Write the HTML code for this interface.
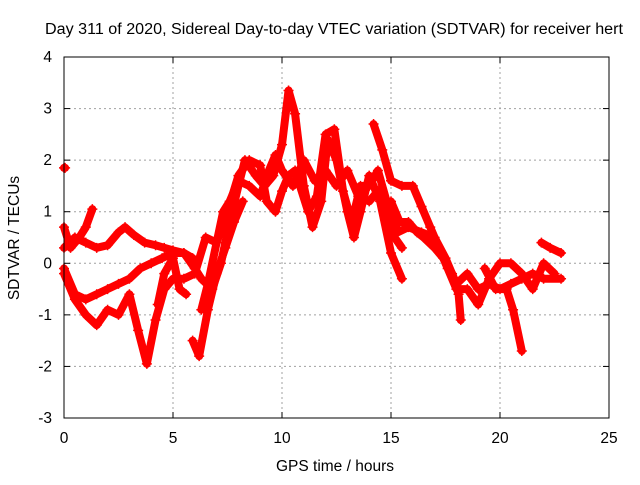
<!DOCTYPE html>
<html><head><meta charset="utf-8"><style>
body{margin:0;background:#fff;font-family:"Liberation Sans",sans-serif}
svg text{font-family:"Liberation Sans",sans-serif;font-size:15.5px;fill:#000}
</style></head><body>
<svg id="chart" width="640" height="480" viewBox="0 0 640 480">
<rect width="640" height="480" fill="#fff"/>
<text x="334" y="34" text-anchor="middle" textLength="578" lengthAdjust="spacingAndGlyphs">Day 311 of 2020, Sidereal Day-to-day VTEC variation (SDTVAR) for receiver hert</text>
<g id="grid"></g>
<g id="series"></g>
<rect x="64" y="57" width="545" height="361" fill="none" stroke="#000" stroke-width="1"/>
<g id="ticks"></g>
<text x="335" y="471" text-anchor="middle">GPS time / hours</text>
<text transform="translate(19,238) rotate(-90)" text-anchor="middle">SDTVAR / TECUs</text>
</svg>
<script>
const xTicks=[0,5,10,15,20,25];
const yTicks=[-3,-2,-1,0,1,2,3,4];
const s1=[[0,0.7],[0.3,0.3],[0.7,0.5],[1.0,0.7],[1.3,1.05]];
const s2=[[0,0.3],[0.5,0.5],[1,0.4],[1.5,0.3],[2,0.35],[2.5,0.6],[2.8,0.7],[3.2,0.55],[3.7,0.4],[4.2,0.35],[4.6,0.3],[5,0.25],[5.5,0.2],[5.9,0.1]];
const s3=[[0,-0.1],[0.5,-0.6],[1,-0.7],[1.5,-0.6],[2,-0.5],[2.5,-0.4],[3,-0.3],[3.5,-0.1],[4,0.0],[4.5,0.1],[5,0.2],[5.5,0.2],[6,-0.1],[6.3,-0.3],[6.8,-0.5],[7.2,0.0],[7.6,0.8],[8,1.5],[8.3,2.0],[8.8,1.7],[9.2,1.5],[9.6,1.7],[10,2.3],[10.3,3.35],[10.6,2.9],[11,1.5],[11.4,0.7],[11.8,1.2],[12.1,2.4],[12.5,2.0],[13,1.0],[13.3,0.5],[13.6,1.0],[14,1.7],[14.5,1.2],[15,0.2],[15.5,-0.3]];
const s4=[[0,-0.2],[0.5,-0.7],[1,-1.0],[1.5,-1.2],[2,-0.9],[2.5,-1.0],[3,-0.6],[3.4,-1.3],[3.8,-1.95],[4.2,-1.1],[4.6,-0.5],[5,-0.3],[5.5,-0.3],[6,-0.2],[6.5,0.5],[7,0.4],[7.5,1.0],[8,1.7],[8.5,2.0],[9,1.9],[9.3,1.2],[9.7,1.0],[10,1.4],[10.3,1.7],[10.6,1.8],[11.2,1.0],[11.6,1.3],[12,2.5],[12.4,2.6],[12.8,1.4],[13.2,0.8],[13.6,1.5],[14,1.5],[14.4,1.8],[14.8,1.2],[15.3,0.6],[15.8,0.7],[16.4,0.6],[17,0.5],[17.5,0.1],[18,-0.4],[18.5,-0.2],[19,-0.5],[19.5,-0.4],[20,-0.5],[20.5,-0.4],[21,-0.3],[21.5,-0.2],[22,-0.3],[22.8,-0.3]];
const s5=[[14.2,2.7],[14.6,2.2],[15,1.6],[15.5,1.5],[16,1.5],[16.4,1.1],[16.8,0.7],[17.2,0.3],[17.6,-0.1],[18,-0.5],[18.5,-0.5],[19,-0.8],[19.5,-0.3],[20,0.0],[20.5,0.0],[21,-0.2],[21.5,-0.5],[22,0.0],[22.5,-0.2]];
const s6=[[15,1.2],[15.4,0.8],[15.8,0.8],[16.2,0.6],[16.5,0.5],[17,0.3],[17.4,0.1],[17.8,-0.2],[18.1,-0.6],[18.2,-1.1]];
const s7=[[19.3,-0.1],[19.8,-0.5],[20.3,-0.5],[20.6,-0.9],[21,-1.7]];
const s8=[[21.9,0.4],[22.3,0.3],[22.8,0.2]];
const s9=[[6.3,-0.9],[6.6,-0.4],[7,0.4],[7.3,1.0],[7.6,1.2],[8,1.6],[8.5,1.5],[9,1.3],[9.4,1.8],[9.7,2.1],[10,1.8],[10.5,1.5],[11,2.0],[11.5,1.6],[12,1.8],[12.5,1.5],[13,1.8],[13.5,1.3],[14,1.2],[14.4,1.4],[14.7,1.0],[15,0.6],[15.5,0.3]];
const s10=[[5.9,-1.5],[6.2,-1.8],[6.6,-0.9],[7,-0.2],[7.4,0.3],[7.8,0.8],[8.2,1.2]];
const s11=[[4.3,-0.8],[4.6,-0.2],[5,0.1],[5.3,-0.5],[5.6,-0.6]];
const s12=[[0,1.85],[0.05,1.85]];
const allSeries=[s1,s2,s3,s4,s5,s6,s7,s8,s9,s10,s11,s12];
const X=v=>64+v*545/25, Y=v=>418-(v+3)*361/7;
const NS="http://www.w3.org/2000/svg";
function mk(t,a,p){const e=document.createElementNS(NS,t);for(const k in a)e.setAttribute(k,a[k]);p.appendChild(e);return e;}
const grid=document.getElementById('grid'),ticks=document.getElementById('ticks'),ser=document.getElementById('series');
xTicks.forEach(t=>{
 const x=X(t);
 if(t>0&&t<25){const g=mk('line',{x1:x,x2:x,y1:57,y2:418,stroke:'#a0a0a0','stroke-dasharray':'2,3'},grid);
 
 }
 mk('line',{x1:x,x2:x,y1:418,y2:412,stroke:'#000'},ticks);mk('line',{x1:x,x2:x,y1:57,y2:63,stroke:'#000'},ticks);
 const l=mk('text',{x:x,y:443,'text-anchor':'middle'},ticks);l.textContent=t;
 
 
});
yTicks.forEach(t=>{
 const y=Y(t);
 if(t>-3&&t<4){const g=mk('line',{x1:64,x2:609,y1:y,y2:y,stroke:'#a0a0a0','stroke-dasharray':'2,3'},grid);
 
 }
 mk('line',{x1:64,x2:70,y1:y,y2:y,stroke:'#000'},ticks);mk('line',{x1:609,x2:603,y1:y,y2:y,stroke:'#000'},ticks);
 const l=mk('text',{x:52,y:y+5,'text-anchor':'end'},ticks);l.textContent=t;
 
 
});
allSeries.forEach((s,i)=>{
 const p=mk('polyline',{points:s.map(d=>X(d[0])+','+Y(d[1])).join(' '),fill:'none',stroke:'#ff0000','stroke-width':8,'stroke-linejoin':'round','stroke-linecap':'round'},ser);
 
 
 s.forEach(d=>{
  const x=X(d[0]),y=Y(d[1]);
  const m=mk('path',{d:`M${x-5},${y}H${x+5}M${x},${y-5}V${y+5}`,stroke:'#ff0000','stroke-width':1.5},ser);
  
  
 });
});
</script>
</body></html>
